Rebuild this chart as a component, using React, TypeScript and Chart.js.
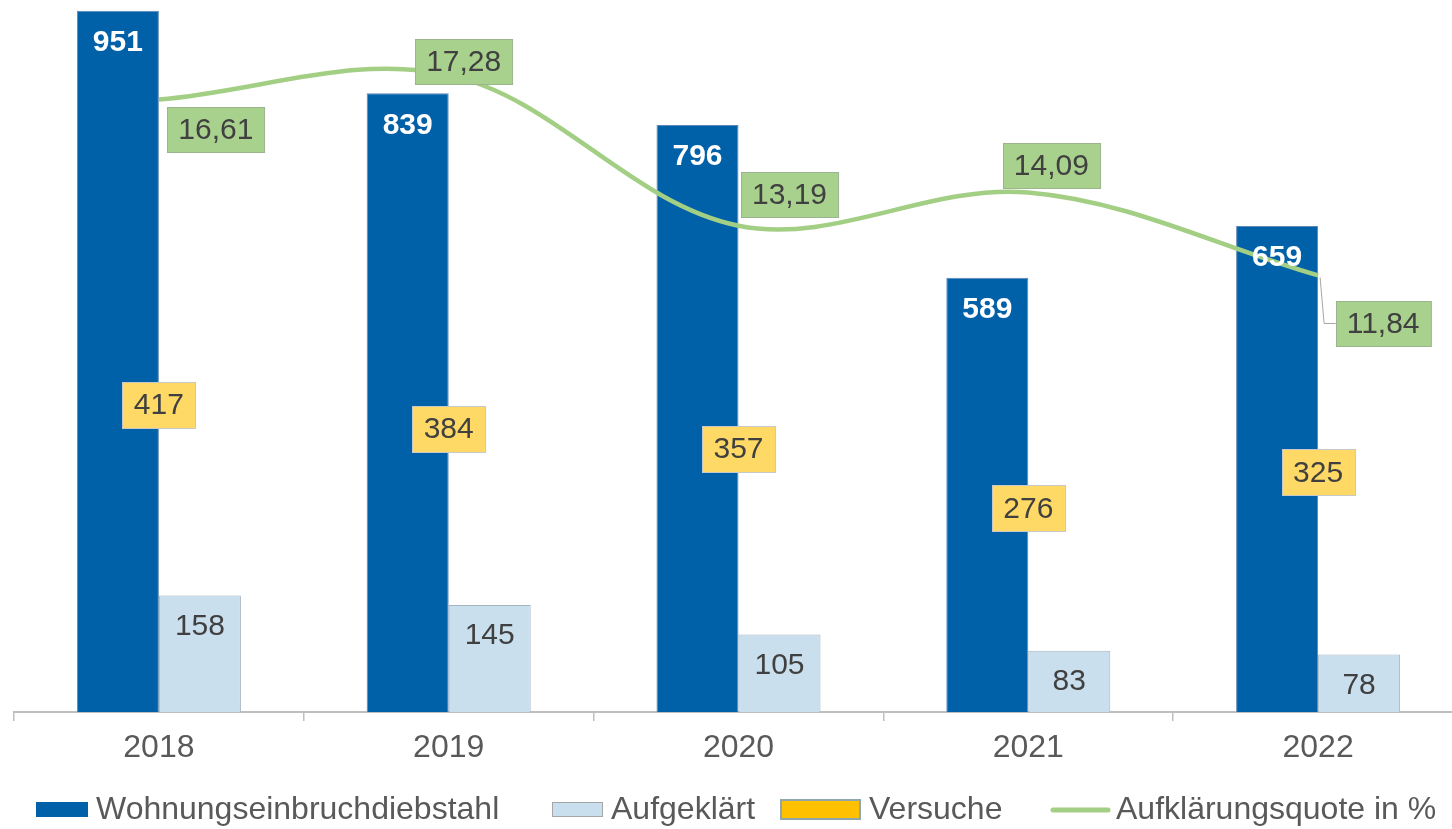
import React, { useEffect, useRef } from 'react';
import { Chart, registerables } from 'chart.js';

Chart.register(...registerables);

// ---- data ----
const years = ['2018', '2019', '2020', '2021', '2022'];
const wohnungseinbruch = [951, 839, 796, 589, 659];
const aufgeklaert = [158, 145, 105, 83, 78];
const versuche = [417, 384, 357, 276, 325];
const quote = [16.61, 17.28, 13.19, 14.09, 11.84];
const seriesNames = ['Wohnungseinbruchdiebstahl', 'Aufgeklärt', 'Versuche', 'Aufklärungsquote in %'];
const leftAxisMax = 1000;
const rightAxisMax = 20;

// ---- style ----
const FONT = '"Liberation Sans", Arial, Helvetica, sans-serif';
const DARK_BLUE = '#0060A8';
const LIGHT_BLUE = '#C9DFEE';
const YELLOW = '#FFC000';
const YELLOW_LABEL = '#FFD966';
const GREEN_LINE = '#A3CF85';
const GREEN_LABEL = '#A9D18E';
const TEXT_DARK = '#404040';
const TEXT_GRAY = '#595959';

const CW = 1480;
const CH = 869;
const SHIFT = 40; // canvas is shifted up so the plot area top is cropped like the original

// label offsets for the quote labels (box centre relative to point)
const quoteLabelOffsets: Array<[number, number, boolean]> = [
  [57, 30, false],
  [15, -13, false],
  [51, -31, false],
  [23, -27, false],
  [65, 48, true],
];

function drawBox(ctx: CanvasRenderingContext2D, cx: number, cy: number, text: string, fill: string, stroke: string, padX: number, h: number) {
  const w = ctx.measureText(text).width + padX * 2;
  const x = Math.round(cx - w / 2) + 0.5;
  const y = Math.round(cy - h / 2) + 0.5;
  ctx.fillStyle = fill;
  ctx.fillRect(x, y, w, h);
  ctx.strokeStyle = stroke;
  ctx.lineWidth = 1;
  ctx.strokeRect(x, y, w, h);
  ctx.fillStyle = TEXT_DARK;
  ctx.fillText(text, cx, cy + 1);
  return { x, y, w, h };
}

const labelPlugin = {
  id: 'customLabels',
  afterDatasetsDraw(chart: any) {
    const ctx: CanvasRenderingContext2D = chart.ctx;
    ctx.save();
    ctx.textAlign = 'center';
    ctx.textBaseline = 'middle';

    // dark blue bar values
    const m0 = chart.getDatasetMeta(0);
    ctx.font = `bold 30px ${FONT}`;
    ctx.fillStyle = '#FFFFFF';
    m0.data.forEach((el: any, i: number) => {
      ctx.fillText(String(wohnungseinbruch[i]), el.x, el.y + 32);
    });

    // light blue bar values
    const m1 = chart.getDatasetMeta(1);
    ctx.font = `30px ${FONT}`;
    ctx.fillStyle = TEXT_DARK;
    m1.data.forEach((el: any, i: number) => {
      ctx.fillText(String(aufgeklaert[i]), el.x, el.y + 31);
    });

    // Versuche labels
    const m2 = chart.getDatasetMeta(2);
    ctx.font = `30px ${FONT}`;
    m2.data.forEach((el: any, i: number) => {
      drawBox(ctx, el.x, el.y, String(versuche[i]), YELLOW_LABEL, '#C8C8C8', 11.5, 46);
    });

    // quote labels
    const m3 = chart.getDatasetMeta(3);
    m3.data.forEach((el: any, i: number) => {
      const [dx, dy, leader] = quoteLabelOffsets[i];
      const text = quote[i].toFixed(2).replace('.', ',');
      const cx = el.x + dx;
      const cy = el.y + dy;
      const w = ctx.measureText(text).width + 22;
      if (leader) {
        ctx.strokeStyle = '#A6A6A6';
        ctx.lineWidth = 1;
        ctx.beginPath();
        ctx.moveTo(el.x + 2, el.y + 2);
        ctx.lineTo(el.x + 6, cy);
        ctx.lineTo(cx - w / 2, cy);
        ctx.stroke();
      }
      drawBox(ctx, cx, cy, text, GREEN_LABEL, '#9DB58E', 11, 45);
    });
    ctx.restore();
  },
  afterDraw(chart: any) {
    // legend
    const ctx: CanvasRenderingContext2D = chart.ctx;
    ctx.save();
    ctx.font = `32px ${FONT}`;
    ctx.textAlign = 'left';
    ctx.textBaseline = 'alphabetic';
    const baseY = 819 + SHIFT;
    const items = [
      { x: 36, kind: 'box', w: 52, h: 15, y: 802, fill: DARK_BLUE, stroke: null, sw: 0 },
      { x: 552, kind: 'box', w: 51, h: 15, y: 802, fill: LIGHT_BLUE, stroke: '#A6A6A6', sw: 1 },
      { x: 780, kind: 'box', w: 81, h: 21, y: 799, fill: YELLOW, stroke: '#8FA6AC', sw: 2 },
      { x: 1053, kind: 'line', w: 55, h: 5, y: 810, fill: GREEN_LINE, stroke: null, sw: 0 },
    ];
    items.forEach((it, i) => {
      if (it.kind === 'box') {
        ctx.fillStyle = it.fill;
        ctx.fillRect(it.x, it.y + SHIFT, it.w, it.h);
        if (it.stroke) {
          ctx.strokeStyle = it.stroke;
          ctx.lineWidth = it.sw;
          ctx.strokeRect(it.x + it.sw / 2, it.y + SHIFT + it.sw / 2, it.w - it.sw, it.h - it.sw);
        }
      } else {
        ctx.strokeStyle = it.fill;
        ctx.lineWidth = it.h;
        ctx.lineCap = 'round';
        ctx.beginPath();
        ctx.moveTo(it.x, it.y + SHIFT);
        ctx.lineTo(it.x + it.w, it.y + SHIFT);
        ctx.stroke();
      }
      ctx.fillStyle = TEXT_GRAY;
      ctx.fillText(seriesNames[i], it.x + it.w + 8, baseY);
    });
    ctx.restore();
  },
};

export default function App() {
  const ref = useRef<HTMLCanvasElement | null>(null);

  useEffect(() => {
    if (!ref.current) return;
    const chart = new Chart(ref.current, {
      type: 'bar',
      data: {
        labels: years,
        datasets: [
          {
            type: 'bar',
            label: seriesNames[0],
            data: wohnungseinbruch,
            backgroundColor: DARK_BLUE,
            borderColor: '#5D87B5',
            borderWidth: 1,
            yAxisID: 'y',
            order: 2,
            categoryPercentage: 0.566,
            barPercentage: 1,
          } as any,
          {
            type: 'bar',
            label: seriesNames[1],
            data: aufgeklaert,
            backgroundColor: LIGHT_BLUE,
            borderColor: '#A6B4BF',
            borderWidth: 1,
            yAxisID: 'y',
            order: 2,
            categoryPercentage: 0.566,
            barPercentage: 1,
          } as any,
          {
            type: 'line',
            label: seriesNames[2],
            data: versuche,
            showLine: false,
            pointRadius: 0,
            backgroundColor: YELLOW,
            borderColor: YELLOW,
            yAxisID: 'y',
            order: 1,
          } as any,
          {
            type: 'line',
            label: seriesNames[3],
            data: quote,
            borderColor: GREEN_LINE,
            backgroundColor: GREEN_LINE,
            borderWidth: 4.5,
            pointRadius: 0,
            tension: 0.35,
            fill: false,
            yAxisID: 'y2',
            order: 0,
          } as any,
        ],
      },
      options: {
        responsive: false,
        animation: false,
        devicePixelRatio: 1,
        layout: { padding: { left: 14, right: CW - 1463, top: 14.6, bottom: 57 } },
        plugins: {
          legend: { display: false },
          tooltip: { enabled: false },
        },
        scales: {
          x: {
            offset: true,
            grid: {
              offset: true,
              drawOnChartArea: false,
              drawTicks: true,
              tickLength: 9,
              color: '#BFBFBF',
              lineWidth: 1.5,
            },
            border: { display: true, color: '#BFBFBF', width: 2 },
            ticks: {
              color: TEXT_GRAY,
              font: { size: 32, family: FONT },
              padding: 7.5,
              maxRotation: 0,
              autoSkip: false,
            },
            afterFit(scale: any) {
              scale.height = 60;
            },
          },
          y: { display: false, min: 0, max: leftAxisMax },
          y2: { display: false, min: 0, max: rightAxisMax, position: 'right' },
        },
      } as any,
      plugins: [labelPlugin],
    });
    return () => chart.destroy();
  }, []);

  return (
    <div style={{ position: 'fixed', left: 0, top: 0, width: 1452, height: 829, overflow: 'hidden', background: '#ffffff' }}>
      <canvas
        ref={ref}
        width={CW}
        height={CH}
        style={{ position: 'absolute', left: 0, top: -SHIFT, width: CW, height: CH }}
      />
    </div>
  );
}
